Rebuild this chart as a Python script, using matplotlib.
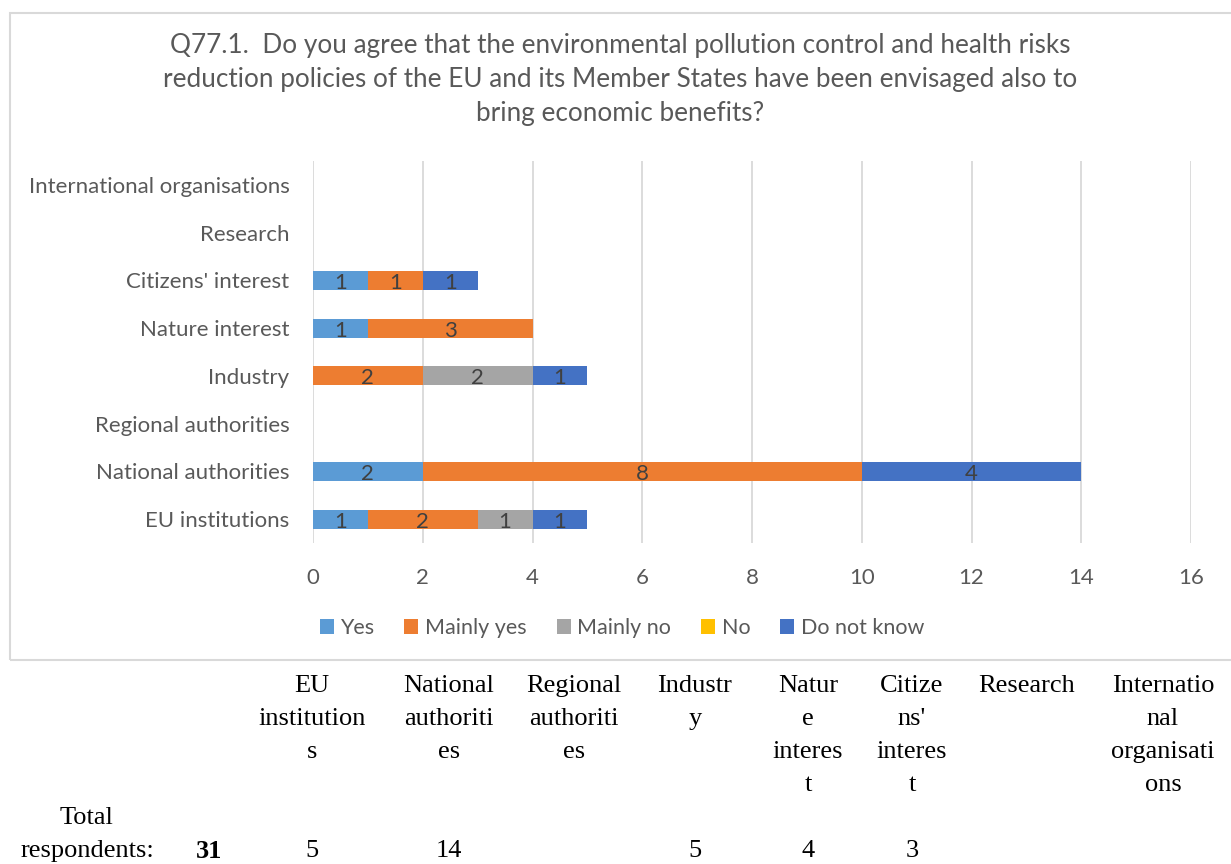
import matplotlib
matplotlib.use("Agg")
import matplotlib.pyplot as plt
from matplotlib.patches import Rectangle, Patch
import numpy as np

# Respondent groups (bottom to top on the chart)
categories = ["EU institutions", "National authorities", "Regional authorities", "Industry",
              "Nature interest", "Citizens' interest", "Research", "International organisations"]

# Answers per group
yes = [1, 2, 0, 0, 1, 1, 0, 0]
mainly_yes = [2, 8, 0, 2, 3, 1, 0, 0]
mainly_no = [1, 0, 0, 2, 0, 0, 0, 0]
no = [0, 0, 0, 0, 0, 0, 0, 0]
do_not_know = [1, 4, 0, 1, 0, 1, 0, 0]

series_names = ["Yes", "Mainly yes", "Mainly no", "No", "Do not know"]
series_colors = ["#5B9BD5", "#ED7D31", "#A5A5A5", "#FFC000", "#4472C4"]

title = ("Q77.1.  Do you agree that the environmental pollution control and health risks\n"
         "reduction policies of the EU and its Member States have been envisaged also to\n"
         "bring economic benefits?")

# Table below the chart
table_headers = ["EU\ninstitution\ns", "National\nauthoriti\nes", "Regional\nauthoriti\nes",
                 "Industr\ny", "Natur\ne\ninteres\nt", "Citize\nns'\ninteres\nt",
                 "Research", "Internatio\nnal\norganisati\nons"]
table_totals = ["5", "14", "", "5", "4", "3", "", ""]
total_label = ["Total", "respondents:"]
total_value = "31"

W, H = 1231, 864
fig = plt.figure(figsize=(W / 100, H / 100), dpi=100)

sans = "Lato"
serif = "Liberation Serif"
text_gray = "#595959"

# Chart frame
fig.patches.append(Rectangle((10 / W, 1 - 660 / H), (W + 20 - 10) / W, (660 - 13) / H,
                             transform=fig.transFigure, fill=False, edgecolor="#D9D9D9",
                             linewidth=1.5, zorder=0))

ax = fig.add_axes([313 / W, 1 - 543 / H, (1191 - 313) / W, (543 - 161) / H])

series = [yes, mainly_yes, mainly_no, no, do_not_know]
y = np.arange(len(categories))
left = np.zeros(len(categories))
for vals, name, color in zip(series, series_names, series_colors):
    vals = np.array(vals, dtype=float)
    ax.barh(y, vals, left=left, height=0.4, color=color, label=name, zorder=3)
    for yi, (l, v) in enumerate(zip(left, vals)):
        if v > 0:
            ax.text(l + v / 2, yi - 0.18, f"{int(v)}", ha="center", va="baseline",
                    fontsize=16, color="#404040", family=sans, zorder=4)
    left += vals

ax.set_xlim(0, 16)
ax.set_ylim(-0.5, len(categories) - 0.5)
ax.set_xticks(np.arange(0, 17, 2))
ax.set_yticks(y)
ax.set_yticklabels(categories)
ax.grid(axis="x", color="#D9D9D9", linewidth=1.3, zorder=0)
for s in ax.spines.values():
    s.set_visible(False)
ax.tick_params(axis="both", length=0, labelsize=16, labelcolor=text_gray)
ax.tick_params(axis="y", pad=17)
ax.tick_params(axis="x", pad=18)
for lab in ax.get_xticklabels() + ax.get_yticklabels():
    lab.set_family(sans)

fig.text(620 / W, 1 - 80 / H, title, ha="center", va="center", fontsize=18.8,
         color=text_gray, family=sans, linespacing=1.45)

handles = [Patch(facecolor=c, edgecolor="none") for c in series_colors]
fig.legend(handles, series_names, loc="center", bbox_to_anchor=(622 / W, 1 - 628 / H),
           ncol=5, frameon=False, prop={"family": sans, "size": 15.5},
           handlelength=0.65, handleheight=0.65, handletextpad=0.3, columnspacing=1.4,
           labelcolor=text_gray)

# Respondent count table
line_step = 33
col_x = [312, 449, 574, 695, 808, 912, 1027, 1163]
for x, hdr, tot in zip(col_x, table_headers, table_totals):
    for i, line in enumerate(hdr.split("\n")):
        fig.text(x / W, 1 - (686 + i * line_step) / H, line, ha="center", va="center",
                 fontsize=19, family=serif, color="black")
    if tot:
        fig.text(x / W, 1 - 851 / H, tot, ha="center", va="center", fontsize=19,
                 family=serif, color="black")
for i, line in enumerate(total_label):
    fig.text(87 / W, 1 - (818 + i * line_step) / H, line, ha="center", va="center",
             fontsize=19, family=serif, color="black")
fig.text(209 / W, 1 - 851 / H, total_value, ha="center", va="center", fontsize=19,
         family=serif, color="black", fontweight="bold")

fig.savefig("out.png", dpi=100)
